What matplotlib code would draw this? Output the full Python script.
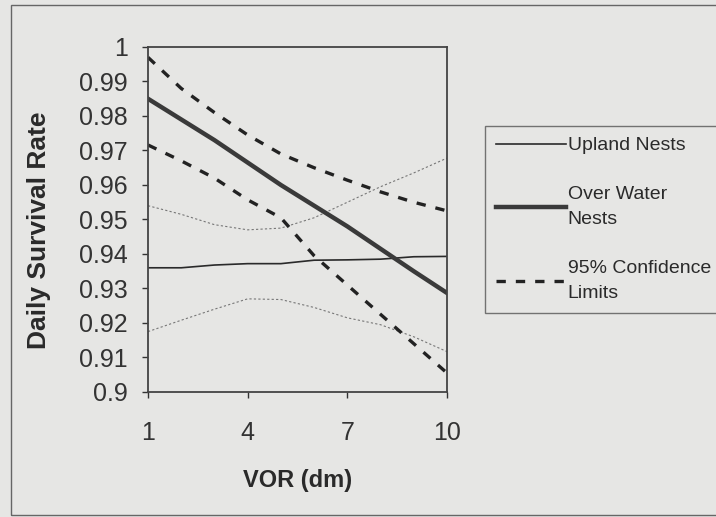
import numpy as np
import matplotlib.pyplot as plt
from matplotlib.patches import Rectangle

plt.rcParams['font.family'] = ['Liberation Sans', 'DejaVu Sans']

# values
vor = [1, 2, 3, 4, 5, 6, 7, 8, 9, 10]
upland = [0.936, 0.936, 0.9368, 0.9372, 0.9372, 0.9382, 0.9383, 0.9385, 0.9392, 0.9393]
upland_hi = [0.954, 0.9515, 0.9485, 0.947, 0.9475, 0.9505, 0.955, 0.9595, 0.9635, 0.9678]
upland_lo = [0.9175, 0.9208, 0.924, 0.927, 0.9268, 0.9245, 0.9215, 0.9195, 0.916, 0.9117]
water = [0.985, 0.979, 0.973, 0.9665, 0.960, 0.954, 0.948, 0.9415, 0.935, 0.9287]
water_hi = [0.997, 0.988, 0.981, 0.9745, 0.969, 0.965, 0.9614, 0.958, 0.955, 0.9525]
water_lo = [0.9716, 0.967, 0.962, 0.9557, 0.9505, 0.9395, 0.931, 0.9225, 0.914, 0.9055]

yticks = [0.9, 0.91, 0.92, 0.93, 0.94, 0.95, 0.96, 0.97, 0.98, 0.99, 1.0]
ytick_labels = ["0.9", "0.91", "0.92", "0.93", "0.94", "0.95", "0.96", "0.97", "0.98", "0.99", "1"]
xticks = [1, 4, 7, 10]

bg = '#e6e6e4'
fig = plt.figure(figsize=(7.16, 5.17), dpi=100, facecolor=bg)
ax = fig.add_axes([0.2067, 0.2418, 0.4176, 0.6673], facecolor=bg)

dash = (0, (2.8, 3.0))
ax.plot(vor, upland_hi, color='#777777', lw=0.8, ls=(0, (2, 2)))
ax.plot(vor, upland_lo, color='#777777', lw=0.8, ls=(0, (2, 2)))
ax.plot(vor, upland, color='#2a2a2a', lw=1.2, label='Upland Nests')
ax.plot(vor, water, color='#3a3a3a', lw=3.2, label='Over Water\nNests')
ax.plot(vor, water_hi, color='#222222', lw=2.4, ls=dash, label='95% Confidence\nLimits')
ax.plot(vor, water_lo, color='#222222', lw=2.4, ls=dash)

ax.set_xlim(1, 10)
ax.set_ylim(0.9, 1.0)
ax.set_xticks(xticks)
ax.set_xticklabels([str(x) for x in xticks])
ax.set_yticks(yticks)
ax.set_yticklabels(ytick_labels)
ax.tick_params(axis='y', labelsize=18, length=4.5, width=1, pad=10, colors='#333333')
ax.tick_params(axis='x', labelsize=18, length=4, width=1, pad=17, colors='#333333')
for s in ax.spines.values():
    s.set_color('#444444')
    s.set_linewidth(1.3)

ax.set_xlabel('VOR (dm)', fontsize=17, fontweight='bold', color='#2a2a2a')
ax.set_ylabel('Daily Survival Rate', fontsize=19, fontweight='bold', color='#2a2a2a')
ax.xaxis.set_label_coords(0.5, -0.222)
ax.yaxis.set_label_coords(-0.325, 0.47)

leg = fig.legend(loc='upper left', bbox_to_anchor=(485 / 716, 1 - 126 / 517),
                 frameon=True, fancybox=False, edgecolor='#555555', facecolor=bg,
                 fontsize=14, handlelength=3.6, handletextpad=0.1,
                 labelspacing=1.65, borderpad=0.55, borderaxespad=0)
leg.get_frame().set_linewidth(1.0)
for t in leg.get_texts():
    t.set_linespacing(1.6)
    t.set_color('#2a2a2a')

# outer chart border (right side runs off the scan)
fig.patches.append(Rectangle((11 / 716, 2 / 517), 1.0, 510 / 517, transform=fig.transFigure,
                             fill=False, ec='#666666', lw=1.0))

fig.savefig('out.png', dpi=100, facecolor=bg)
